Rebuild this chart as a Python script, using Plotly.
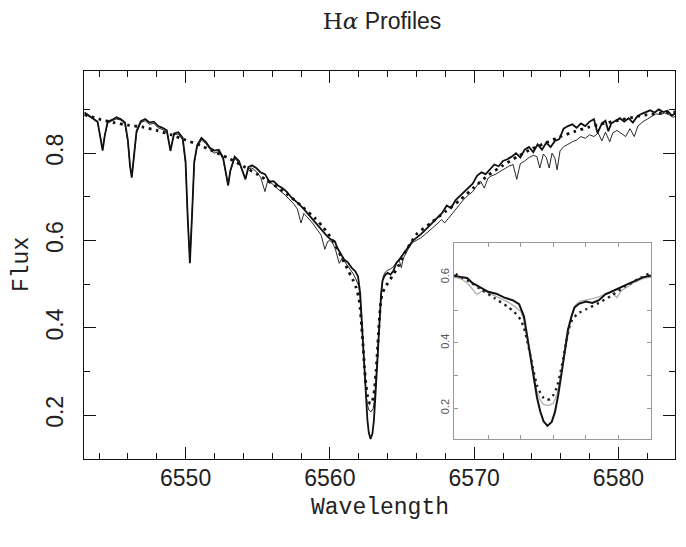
import plotly.graph_objects as go

TITLE = "<span style='font-family:DejaVu Serif'>H<i>α</i></span> Profiles"
X_TITLE = "Wavelength"
Y_TITLE = "Flux"
X_TICKS = [6550, 6560, 6570, 6580]
Y_TICKS = [0.2, 0.4, 0.6, 0.8]
INSET_Y_TICKS = [0.2, 0.3, 0.4, 0.5, 0.6]
INSET_Y_TEXT = ["0.2", "", "0.4", "", "0.6"]
INSET_X_TICKS = [6561, 6562, 6563, 6564, 6565]

# ---- thick solid spectrum ----
THICK_WAVE_LEFT = [6543.0, 6543.3, 6543.6, 6543.9, 6544.1, 6544.25, 6544.4, 6544.6, 6544.9, 6545.2,
                   6545.5, 6545.8, 6546.0, 6546.15, 6546.27, 6546.4, 6546.6, 6546.9, 6547.2, 6547.5,
                   6547.8, 6548.1, 6548.4, 6548.7, 6548.95, 6549.2, 6549.5, 6549.8, 6550.0, 6550.15,
                   6550.3, 6550.45, 6550.6, 6550.8, 6551.1, 6551.4, 6551.7, 6552.0, 6552.3, 6552.6,
                   6552.8, 6552.95, 6553.1, 6553.4, 6553.7, 6553.95, 6554.15, 6554.35, 6554.6, 6554.9,
                   6555.2, 6555.5, 6555.8, 6556.1, 6556.4, 6556.7, 6557.0, 6557.3, 6557.6, 6557.9,
                   6558.2, 6558.5, 6558.8, 6559.1, 6559.4, 6559.7]
THICK_FLUX_LEFT = [0.893, 0.886, 0.880, 0.872, 0.835, 0.806, 0.840, 0.872, 0.876, 0.882,
                   0.878, 0.870, 0.830, 0.770, 0.744, 0.780, 0.850, 0.873, 0.878, 0.870,
                   0.872, 0.862, 0.858, 0.852, 0.805, 0.845, 0.848, 0.835, 0.780, 0.650,
                   0.548, 0.660, 0.780, 0.818, 0.835, 0.826, 0.812, 0.806, 0.808, 0.790,
                   0.750, 0.726, 0.760, 0.792, 0.782, 0.760, 0.740, 0.768, 0.772, 0.766,
                   0.756, 0.752, 0.735, 0.736, 0.726, 0.720, 0.712, 0.700, 0.692, 0.682,
                   0.672, 0.660, 0.650, 0.638, 0.626, 0.614]
THICK_WAVE_CORE = [6560.0, 6560.2, 6560.35, 6560.5, 6560.75, 6561.0, 6561.25, 6561.5, 6561.75, 6561.95,
                   6562.1, 6562.2, 6562.3, 6562.4, 6562.5, 6562.6, 6562.7, 6562.82, 6562.95, 6563.05,
                   6563.15, 6563.25, 6563.35, 6563.45, 6563.55, 6563.65, 6563.8, 6564.0, 6564.2, 6564.4,
                   6564.6, 6564.8, 6565.0, 6565.25, 6565.5, 6565.75]
THICK_FLUX_CORE = [0.604, 0.600, 0.598, 0.584, 0.570, 0.556, 0.550, 0.538, 0.530, 0.518,
                   0.480, 0.420, 0.350, 0.290, 0.232, 0.190, 0.160, 0.146, 0.158, 0.188,
                   0.240, 0.305, 0.380, 0.440, 0.478, 0.508, 0.520, 0.526, 0.522, 0.530,
                   0.548, 0.556, 0.566, 0.578, 0.588, 0.600]
THICK_WAVE_RIGHT = [6566.0, 6566.3, 6566.6, 6566.9, 6567.2, 6567.5, 6567.8, 6568.1, 6568.4, 6568.7,
                    6569.0, 6569.3, 6569.6, 6569.9, 6570.2, 6570.5, 6570.8, 6571.1, 6571.4, 6571.7,
                    6572.0, 6572.3, 6572.6, 6572.9, 6573.2, 6573.5, 6573.8, 6574.1, 6574.4, 6574.7,
                    6575.0, 6575.3, 6575.6, 6575.9, 6576.2, 6576.5, 6576.8, 6577.1, 6577.4, 6577.7,
                    6578.0, 6578.3, 6578.55, 6578.85, 6579.1, 6579.3, 6579.5, 6579.8, 6580.1, 6580.4,
                    6580.7, 6581.0, 6581.3, 6581.6, 6581.9, 6582.2, 6582.5, 6582.8, 6583.1, 6583.4,
                    6583.7, 6584.0]
THICK_FLUX_RIGHT = [0.606, 0.614, 0.624, 0.634, 0.642, 0.654, 0.664, 0.680, 0.674, 0.692,
                    0.702, 0.712, 0.722, 0.730, 0.748, 0.756, 0.752, 0.764, 0.774, 0.770,
                    0.782, 0.786, 0.792, 0.800, 0.790, 0.808, 0.814, 0.802, 0.820, 0.808,
                    0.824, 0.814, 0.828, 0.832, 0.856, 0.862, 0.866, 0.858, 0.868, 0.862,
                    0.872, 0.878, 0.846, 0.868, 0.874, 0.850, 0.868, 0.874, 0.880, 0.872,
                    0.880, 0.870, 0.884, 0.890, 0.894, 0.898, 0.893, 0.900, 0.894, 0.897,
                    0.886, 0.892]

# ---- thin solid spectrum ----
THIN_WAVE_LEFT = [6543.0, 6543.3, 6543.6, 6543.9, 6544.1, 6544.25, 6544.4, 6544.6, 6544.9, 6545.2,
                  6545.5, 6545.8, 6546.0, 6546.15, 6546.27, 6546.4, 6546.6, 6546.9, 6547.2, 6547.5,
                  6547.8, 6548.1, 6548.4, 6548.7, 6548.95, 6549.2, 6549.5, 6549.8, 6550.0, 6550.15,
                  6550.3, 6550.45, 6550.6, 6550.8, 6551.1, 6551.4, 6551.7, 6552.0, 6552.3, 6552.6,
                  6552.8, 6552.95, 6553.1, 6553.4, 6553.7, 6553.95, 6554.15, 6554.35, 6554.6, 6554.9,
                  6555.2, 6555.5, 6555.7, 6556.0, 6556.3, 6556.6, 6556.9, 6557.2, 6557.5, 6557.75,
                  6558.0, 6558.2, 6558.5, 6558.8, 6559.1, 6559.4, 6559.65, 6559.85]
THIN_FLUX_LEFT = [0.890, 0.884, 0.878, 0.870, 0.832, 0.810, 0.842, 0.868, 0.874, 0.878,
                  0.876, 0.866, 0.826, 0.772, 0.748, 0.782, 0.846, 0.870, 0.874, 0.866,
                  0.868, 0.858, 0.854, 0.848, 0.808, 0.842, 0.844, 0.830, 0.776, 0.652,
                  0.552, 0.662, 0.776, 0.814, 0.830, 0.822, 0.808, 0.800, 0.804, 0.786,
                  0.748, 0.728, 0.758, 0.788, 0.778, 0.758, 0.742, 0.764, 0.766, 0.758,
                  0.745, 0.712, 0.738, 0.730, 0.720, 0.712, 0.704, 0.694, 0.684, 0.672,
                  0.640, 0.662, 0.652, 0.640, 0.626, 0.612, 0.580, 0.598]
THIN_WAVE_CORE = [6560.0, 6560.2, 6560.4, 6560.65, 6560.85, 6561.1, 6561.35, 6561.6, 6561.8, 6562.0,
                  6562.1, 6562.2, 6562.3, 6562.4, 6562.5, 6562.6, 6562.7, 6562.85, 6563.0, 6563.1,
                  6563.2, 6563.3, 6563.4, 6563.5, 6563.6, 6563.7, 6563.85, 6564.0, 6564.2, 6564.4,
                  6564.6, 6564.8, 6564.95, 6565.1, 6565.3, 6565.5, 6565.75]
THIN_FLUX_CORE = [0.600, 0.594, 0.578, 0.548, 0.560, 0.548, 0.538, 0.525, 0.512, 0.496,
                  0.470, 0.415, 0.350, 0.295, 0.250, 0.225, 0.212, 0.208, 0.215, 0.238,
                  0.280, 0.335, 0.395, 0.452, 0.495, 0.518, 0.528, 0.532, 0.535, 0.540,
                  0.550, 0.556, 0.538, 0.560, 0.572, 0.585, 0.596]
THIN_WAVE_RIGHT = [6566.0, 6566.3, 6566.6, 6566.9, 6567.2, 6567.5, 6567.75, 6567.95, 6568.2, 6568.45,
                   6568.7, 6569.0, 6569.3, 6569.6, 6569.9, 6570.2, 6570.45, 6570.7, 6570.95, 6571.2,
                   6571.5, 6571.8, 6572.1, 6572.4, 6572.7, 6572.95, 6573.2, 6573.5, 6573.8, 6574.1,
                   6574.35, 6574.55, 6574.8, 6575.0, 6575.2, 6575.4, 6575.6, 6575.75, 6575.95, 6576.2,
                   6576.5, 6576.8, 6577.1, 6577.4, 6577.7, 6578.0, 6578.3, 6578.6, 6578.85, 6579.1,
                   6579.4, 6579.6, 6579.9, 6580.2, 6580.5, 6580.8, 6581.1, 6581.35, 6581.7, 6582.0,
                   6582.3, 6582.6, 6582.9, 6583.2, 6583.5, 6583.8, 6584.0]
THIN_FLUX_RIGHT = [0.600, 0.606, 0.614, 0.622, 0.630, 0.640, 0.648, 0.640, 0.650, 0.660,
                   0.672, 0.684, 0.695, 0.704, 0.712, 0.726, 0.736, 0.720, 0.742, 0.748,
                   0.752, 0.758, 0.764, 0.770, 0.774, 0.740, 0.776, 0.782, 0.790, 0.795,
                   0.792, 0.766, 0.798, 0.790, 0.766, 0.800, 0.788, 0.762, 0.805, 0.815,
                   0.820, 0.826, 0.830, 0.838, 0.834, 0.842, 0.838, 0.846, 0.828, 0.848,
                   0.826, 0.846, 0.852, 0.846, 0.838, 0.856, 0.838, 0.862, 0.872, 0.878,
                   0.885, 0.890, 0.888, 0.892, 0.888, 0.882, 0.886]

# ---- dotted model profile ----
MODEL_WAVE = [6543.0, 6544.0, 6545.0, 6546.0, 6547.0, 6548.0, 6549.0, 6550.0, 6551.0, 6552.0,
              6553.0, 6554.0, 6555.0, 6556.0, 6557.0, 6558.0, 6559.0, 6559.5,
              6560.0, 6560.4, 6560.8, 6561.2, 6561.6, 6561.8, 6562.0, 6562.1, 6562.2, 6562.3,
              6562.4, 6562.5, 6562.6, 6562.7, 6562.8, 6562.9, 6563.0, 6563.1, 6563.2, 6563.3,
              6563.4, 6563.5, 6563.6, 6563.8, 6564.0, 6564.4, 6564.8, 6565.2, 6565.6,
              6566.0, 6567.0, 6568.0, 6569.0, 6570.0, 6571.0, 6572.0, 6573.0, 6574.0, 6575.0,
              6576.0, 6577.0, 6578.0, 6579.0, 6580.0, 6581.0, 6582.0, 6583.0, 6584.0]
MODEL_FLUX = [0.888, 0.878, 0.870, 0.864, 0.860, 0.852, 0.842, 0.830, 0.818, 0.803,
              0.788, 0.770, 0.751, 0.730, 0.707, 0.680, 0.650, 0.632,
              0.610, 0.588, 0.562, 0.536, 0.510, 0.494, 0.470, 0.445, 0.405, 0.360,
              0.310, 0.270, 0.247, 0.232, 0.226, 0.228, 0.240, 0.262, 0.300, 0.350,
              0.405, 0.450, 0.474, 0.492, 0.502, 0.522, 0.545, 0.572, 0.594,
              0.614, 0.640, 0.666, 0.692, 0.722, 0.750, 0.772, 0.792, 0.810, 0.824,
              0.838, 0.850, 0.860, 0.868, 0.875, 0.882, 0.888, 0.892, 0.894]

THICK_WAVE = THICK_WAVE_LEFT + THICK_WAVE_CORE + THICK_WAVE_RIGHT
THICK_FLUX = THICK_FLUX_LEFT + THICK_FLUX_CORE + THICK_FLUX_RIGHT
THIN_WAVE = THIN_WAVE_LEFT + THIN_WAVE_CORE + THIN_WAVE_RIGHT
THIN_FLUX = THIN_FLUX_LEFT + THIN_FLUX_CORE + THIN_FLUX_RIGHT

fig = go.Figure()

# main panel
fig.add_trace(go.Scatter(x=THIN_WAVE, y=THIN_FLUX, mode="lines",
                         line=dict(color="#111111", width=0.9), showlegend=False,
                         xaxis="x", yaxis="y"))
fig.add_trace(go.Scatter(x=THICK_WAVE, y=THICK_FLUX, mode="lines",
                         line=dict(color="#111111", width=1.8), showlegend=False,
                         xaxis="x", yaxis="y"))
fig.add_trace(go.Scatter(x=MODEL_WAVE, y=MODEL_FLUX, mode="lines",
                         line=dict(color="#111111", width=2.8, dash="2.8px,4.5px",
                                   shape="spline", smoothing=0.6),
                         showlegend=False, xaxis="x", yaxis="y"))

# inset panel
fig.add_trace(go.Scatter(x=THIN_WAVE, y=THIN_FLUX, mode="lines",
                         line=dict(color="#b0b0b0", width=1.3), showlegend=False,
                         xaxis="x2", yaxis="y2"))
fig.add_trace(go.Scatter(x=THICK_WAVE, y=THICK_FLUX, mode="lines",
                         line=dict(color="#111111", width=2.0), showlegend=False,
                         xaxis="x2", yaxis="y2"))
fig.add_trace(go.Scatter(x=MODEL_WAVE, y=MODEL_FLUX, mode="lines",
                         line=dict(color="#222222", width=2.4, dash="2.4px,4px",
                                   shape="spline", smoothing=0.6),
                         showlegend=False, xaxis="x2", yaxis="y2"))

# the page body adds an 8px margin, so the figure is 16px smaller and all
# reference pixel positions are shifted by 8px
OFF = 8
W, H = 686 - 2 * OFF, 547 - 2 * OFF
L = 84 - OFF
T = 71 - OFF
R = W - (675 - OFF)
B = H - (459 - OFF)
plot_w = W - L - R
plot_h = H - T - B

def px_x(px):
    return (px - OFF - L) / plot_w

def px_y(py):
    return (H - B - (py - OFF)) / plot_h

tick_font = dict(family="Liberation Sans, Arial, sans-serif", size=23, color="#222222")

fig.update_layout(
    width=W, height=H,
    margin=dict(l=L, r=R, t=T, b=B),
    paper_bgcolor="white", plot_bgcolor="white",
    title=dict(text=TITLE, x=px_x(382), xref="paper", xanchor="center",
               y=1 - (21 - OFF) / H, yref="container", yanchor="middle",
               font=dict(family="Liberation Sans, Arial, sans-serif", size=23, color="#222222")),
    xaxis=dict(domain=[0, 1], range=[6542.96, 6583.92], tickvals=X_TICKS,
               ticktext=[str(v) for v in X_TICKS],
               ticks="inside", ticklen=12, tickwidth=1, tickcolor="#111111",
               showline=True, linecolor="#111111", linewidth=1, mirror="ticks",
               showgrid=False, zeroline=False, tickfont=tick_font, ticklabelstandoff=-2,
               minor=dict(ticks="inside", ticklen=6, tickwidth=1, tickcolor="#111111",
                          dtick=2, tick0=6550, showgrid=False),
               anchor="y"),
    yaxis=dict(domain=[0, 1], range=[0.1, 0.988], tickvals=Y_TICKS,
               ticktext=[f"{v:.1f}" for v in Y_TICKS], tickangle=-90,
               ticks="inside", ticklen=12, tickwidth=1, tickcolor="#111111",
               showline=True, linecolor="#111111", linewidth=1, mirror="ticks",
               showgrid=False, zeroline=False, tickfont=tick_font, ticklabelstandoff=11,
               minor=dict(ticks="inside", ticklen=6, tickwidth=1, tickcolor="#111111",
                          dtick=0.1, tick0=0.2, showgrid=False),
               anchor="x"),
    xaxis2=dict(domain=[px_x(454), px_x(651)], range=[6559.95, 6566.0],
                tickvals=INSET_X_TICKS, showticklabels=False,
                ticks="inside", ticklen=4, tickcolor="#999999",
                showline=True, linecolor="#999999", linewidth=1, mirror="ticks",
                showgrid=False, zeroline=False, anchor="y2"),
    yaxis2=dict(domain=[px_y(439), px_y(243)], range=[0.106, 0.705],
                tickvals=INSET_Y_TICKS, ticktext=INSET_Y_TEXT, tickangle=-90,
                ticks="inside", ticklen=4, tickcolor="#999999",
                showline=True, linecolor="#999999", linewidth=1, mirror="ticks",
                showgrid=False, zeroline=False, anchor="x2",
                tickfont=dict(family="Liberation Sans, Arial, sans-serif", size=11, color="#555555")),
    annotations=[
        dict(text=X_TITLE, x=0.5, y=px_y(508), xref="paper", yref="paper",
             xanchor="center", yanchor="middle", showarrow=False,
             font=dict(family="Liberation Mono, Courier New, monospace", size=23, color="#222222")),
        dict(text=Y_TITLE, x=px_x(22), y=0.5, xref="paper", yref="paper",
             xanchor="center", yanchor="middle", showarrow=False, textangle=-90,
             font=dict(family="Liberation Mono, Courier New, monospace", size=23, color="#222222")),
    ],
)

fig.write_html("out.html")
